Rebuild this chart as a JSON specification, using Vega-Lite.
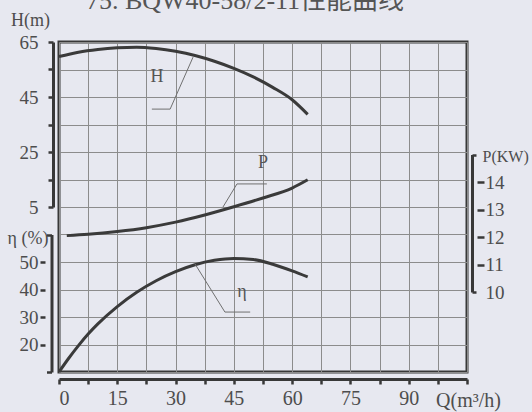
{
  "$schema": "https://vega.github.io/schema/vega-lite/v6.json",
  "width": 408,
  "height": 330,
  "autosize": "none",
  "padding": {"left": 59, "top": 42, "right": 65, "bottom": 40},
  "background": "#e7e8f0",
  "title": {
    "text": "75. BQW40-58/2-11性能曲线",
    "font": "Liberation Serif, Noto Sans CJK SC",
    "fontSize": 26,
    "fontWeight": "normal",
    "color": "#555555",
    "anchor": "middle",
    "dx": -18,
    "offset": -3
  },
  "config": {
    "view": {"stroke": "#383838", "strokeWidth": 3},
    "axis": {
      "labelFont": "Liberation Serif",
      "titleFont": "Liberation Serif",
      "labelColor": "#4d4d4d",
      "titleColor": "#4d4d4d",
      "titleFontWeight": "normal",
      "labelFontSize": 19,
      "titleFontSize": 18,
      "domainColor": "#383838",
      "tickColor": "#383838",
      "domainWidth": 3,
      "tickWidth": 2.5,
      "gridColor": "#8c8c8c",
      "gridWidth": 1,
      "gridOpacity": 1
    },
    "text": {"font": "Liberation Serif", "color": "#555555"}
  },
  "datasets": {
    "hcurve": [
      {"Q": 0, "H": 59.7}, {"Q": 5, "H": 61.3}, {"Q": 10, "H": 62.3}, {"Q": 15, "H": 62.9},
      {"Q": 20, "H": 63.1}, {"Q": 25, "H": 62.6}, {"Q": 30, "H": 61.6}, {"Q": 35, "H": 60.1},
      {"Q": 40, "H": 58.0}, {"Q": 45, "H": 55.4}, {"Q": 50, "H": 52.3}, {"Q": 55, "H": 48.5},
      {"Q": 60, "H": 44.0}, {"Q": 64, "H": 38.7}
    ],
    "pcurve": [
      {"Q": 2, "P": 12.05}, {"Q": 7.5, "P": 12.1}, {"Q": 15, "P": 12.2}, {"Q": 22.5, "P": 12.34},
      {"Q": 30, "P": 12.54}, {"Q": 37.5, "P": 12.8}, {"Q": 45, "P": 13.1}, {"Q": 52.5, "P": 13.42},
      {"Q": 60, "P": 13.78}, {"Q": 64, "P": 14.08}
    ],
    "ecurve": [
      {"Q": 0, "E": 10}, {"Q": 2.5, "E": 15}, {"Q": 5, "E": 19.6}, {"Q": 7.5, "E": 23.8},
      {"Q": 10, "E": 27.5}, {"Q": 15, "E": 33.8}, {"Q": 20, "E": 39}, {"Q": 25, "E": 43.2},
      {"Q": 30, "E": 46.5}, {"Q": 35, "E": 49}, {"Q": 40, "E": 50.6}, {"Q": 45, "E": 51.3},
      {"Q": 50, "E": 50.9}, {"Q": 55, "E": 49.2}, {"Q": 60, "E": 46.8}, {"Q": 64, "E": 44.6}
    ],
    "hleader": [{"Q": 23.9, "H": 40.6}, {"Q": 28.6, "H": 40.6}, {"Q": 34.5, "H": 59.5}],
    "pleader": [{"Q": 42.2, "P": 13.09}, {"Q": 45.8, "P": 13.93}, {"Q": 53.5, "P": 13.93}],
    "eleader": [{"Q": 35, "E": 49.3}, {"Q": 42.7, "E": 31.8}, {"Q": 49.2, "E": 31.8}],
    "hlabel": [{"Q": 25.2, "H": 52.3, "t": "H"}],
    "plabel": [{"Q": 52.5, "P": 14.69, "t": "P"}],
    "elabel": [{"Q": 47.1, "E": 39.1, "t": "η"}]
  },
  "encoding": {
    "x": {
      "field": "Q",
      "type": "quantitative",
      "scale": {"domain": [0, 105], "nice": false, "zero": false},
      "axis": {
        "values": [0, 7.5, 15, 22.5, 30, 37.5, 45, 52.5, 60, 67.5, 75, 82.5, 90, 97.5, 105],
        "grid": true,
        "offset": 7,
        "tickSize": 5,
        "labelPadding": 4,
        "labelFontSize": 20,
        "labelExpr": "(datum.value % 15 == 0 && datum.value <= 90) ? '' + datum.value : ''",
        "title": "Q(m³/h)",
        "titleFontSize": 20,
        "titleX": 409,
        "titleY": 21,
        "titleAlign": "center",
        "titleBaseline": "middle"
      }
    }
  },
  "layer": [
    {
      "data": {"name": "ecurve"},
      "mark": {"type": "line", "interpolate": "monotone", "color": "#3a3a3a", "strokeWidth": 3},
      "encoding": {
        "y": {
          "field": "E", "type": "quantitative",
          "scale": {"domain": [10, 130], "nice": false, "zero": false},
          "axis": {
            "orient": "left", "grid": true, "domain": false, "ticks": false, "labels": false,
            "values": [10, 20, 30, 40, 50, 60, 70, 80, 90, 100, 110, 120, 130], "title": null
          }
        }
      }
    },
    {
      "data": {"name": "hcurve"},
      "mark": {"type": "line", "interpolate": "monotone", "color": "#3a3a3a", "strokeWidth": 3},
      "encoding": {
        "y": {
          "field": "H", "type": "quantitative",
          "scale": {"domain": [5, 65], "range": [165, 0], "nice": false, "zero": false},
          "axis": {
            "orient": "left", "offset": 6, "grid": false,
            "values": [5, 15, 25, 35, 45, 55, 65],
            "tickSize": 5, "labelPadding": 10,
            "labelExpr": "(datum.value - 5) % 20 == 0 ? '' + datum.value : ''",
            "title": "H(m)", "titleAngle": 0, "titleAlign": "center", "titleBaseline": "middle",
            "titleX": -23, "titleY": -22
          }
        }
      }
    },
    {
      "data": {"name": "hleader"},
      "mark": {"type": "line", "color": "#707070", "strokeWidth": 1},
      "encoding": {
        "y": {"field": "H", "type": "quantitative",
          "scale": {"domain": [5, 65], "range": [165, 0], "nice": false, "zero": false}, "axis": null}
      }
    },
    {
      "data": {"name": "hlabel"},
      "mark": {"type": "text", "fontSize": 18},
      "encoding": {
        "y": {"field": "H", "type": "quantitative",
          "scale": {"domain": [5, 65], "range": [165, 0], "nice": false, "zero": false}, "axis": null},
        "text": {"field": "t"}
      }
    },
    {
      "data": {"name": "pcurve"},
      "mark": {"type": "line", "interpolate": "monotone", "color": "#3a3a3a", "strokeWidth": 3},
      "encoding": {
        "y": {
          "field": "P", "type": "quantitative",
          "scale": {"domain": [10, 15], "range": [250, 112.5], "nice": false, "zero": false},
          "axis": {
            "orient": "right", "offset": 5, "grid": false, "values": [10, 15],
            "labels": false, "tickSize": 4,
            "title": "P(KW)", "titleFontSize": 16, "titleAngle": 0, "titleAlign": "left", "titleBaseline": "middle",
            "titleX": 10, "titleY": 114
          }
        }
      }
    },
    {
      "data": {"name": "pleader"},
      "mark": {"type": "line", "color": "#707070", "strokeWidth": 1},
      "encoding": {
        "y": {
          "field": "P", "type": "quantitative",
          "scale": {"domain": [10, 15], "range": [250, 112.5], "nice": false, "zero": false},
          "axis": {
            "orient": "right", "offset": 10, "grid": false, "domain": false,
            "values": [10, 11, 12, 13, 14], "tickSize": 7,
            "tickOpacity": {"condition": {"test": "datum.value == 10", "value": 0}, "value": 1},
            "labelPadding": 1, "title": null
          }
        }
      }
    },
    {
      "data": {"name": "plabel"},
      "mark": {"type": "text", "fontSize": 18},
      "encoding": {
        "y": {"field": "P", "type": "quantitative",
          "scale": {"domain": [10, 15], "range": [250, 112.5], "nice": false, "zero": false}, "axis": null},
        "text": {"field": "t"}
      }
    },
    {
      "data": {"name": "eleader"},
      "mark": {"type": "line", "color": "#707070", "strokeWidth": 1},
      "encoding": {
        "y": {
          "field": "E", "type": "quantitative",
          "scale": {"domain": [10, 60], "range": [330, 192.5], "nice": false, "zero": false},
          "axis": {
            "orient": "left", "offset": 7.5, "grid": false, "values": [10, 60],
            "labels": false, "tickSize": 5,
            "title": "η (%)", "titleAngle": 0, "titleAlign": "center", "titleBaseline": "middle",
            "titleX": -24, "titleY": 196
          }
        }
      }
    },
    {
      "data": {"name": "elabel"},
      "mark": {"type": "text", "fontSize": 18},
      "encoding": {
        "y": {
          "field": "E", "type": "quantitative",
          "scale": {"domain": [10, 60], "range": [330, 192.5], "nice": false, "zero": false},
          "axis": {
            "orient": "left", "offset": 14, "grid": false, "domain": false,
            "values": [20, 30, 40, 50], "tickSize": 5, "labelPadding": 2, "title": null
          }
        },
        "text": {"field": "t"}
      }
    }
  ],
  "resolve": {"scale": {"y": "independent"}, "axis": {"y": "independent"}}
}
